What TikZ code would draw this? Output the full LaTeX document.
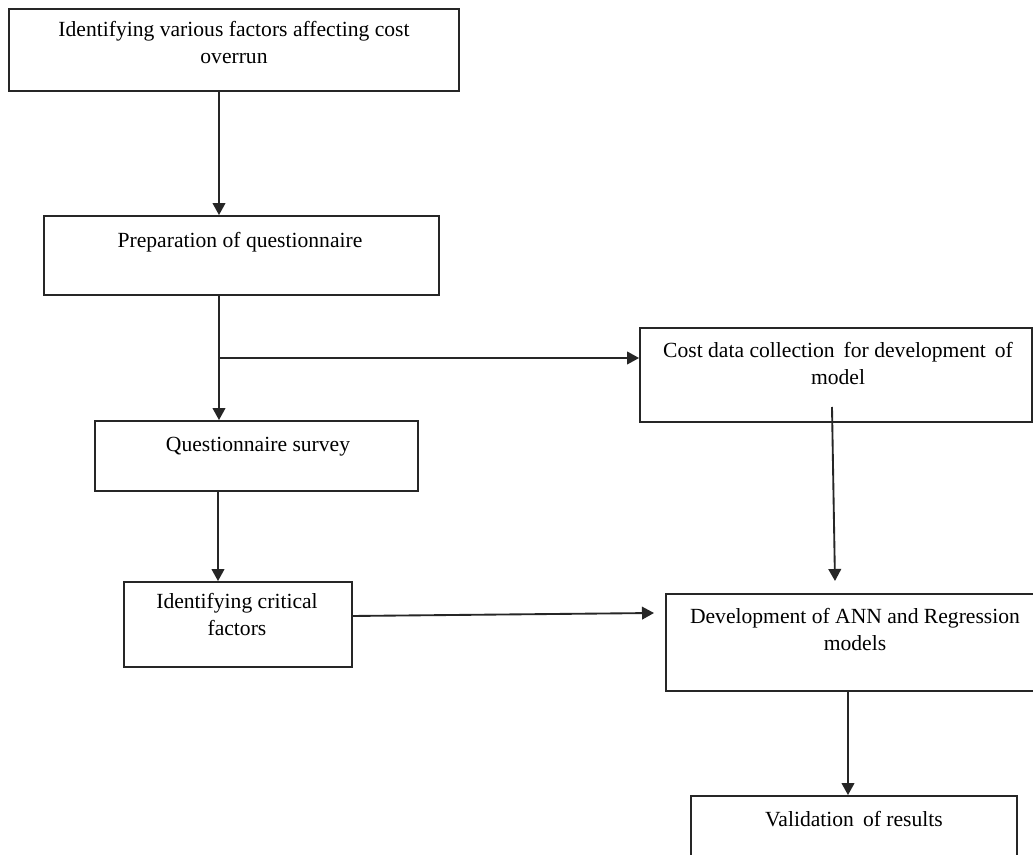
\documentclass[tikz,border=0pt]{standalone}
\usepackage{fontspec}
\setmainfont{Liberation Serif}
\usetikzlibrary{arrows.meta,fit}
\begin{document}
\begin{tikzpicture}[x=0.75pt,y=-0.75pt,
  box/.style={draw=black!85, line width=1.4pt, inner sep=0pt},
  txt/.style={align=center, inner sep=0pt, anchor=north, text=black,
              font=\fontsize{16.2}{20.25}\selectfont},
  arr/.style={line width=1.4pt, draw=black!85,
              -{Triangle[length=9pt,width=9.5pt]}}]
\useasboundingbox (0,0) rectangle (1033,855);
\fill[white] (0,0) rectangle (1033,855);
\clip (0,0) rectangle (1033,855);

% boxes
\node[box, fit={(9,9) (459,91)}] (b1) {};
\node[box, fit={(44,216) (439,295)}] (b2) {};
\node[box, fit={(95,421) (418,491)}] (b3) {};
\node[box, fit={(124,582) (352,667)}] (b4) {};
\node[box, fit={(640,328) (1032,422)}] (b5) {};
\node[box, fit={(666,594) (1044,691)}] (b6) {};
\node[box, fit={(691,796) (1017,880)}] (b7) {};

% texts
\node[txt] (t1) at (234,21.3) {Identifying various factors affecting cost\\overrun};
\node[txt] (t2) at (240,232.3) {Preparation of questionnaire};
\node[txt] (t3) at (258,437.3) {Questionnaire survey};
\node[txt] (t4) at (237,593.3) {Identifying critical\\factors};
\node[txt] (t5) at (838,342.3) {Cost data collection\, for development\, of\\model};
\node[txt] (t6) at (855,608.3) {Development of ANN and Regression\\models};
\node[txt] (t7) at (854,811.3) {Validation\, of results};

% helper coordinates
\coordinate (xa) at (219,0);
\coordinate (xb) at (218,0);
\coordinate (xc) at (848,0);
\coordinate (j) at (219,358);
\coordinate (s4) at (352,616);
\coordinate (e4) at (654,613);
\coordinate (s5) at (832,407);
\coordinate (e5) at (835,581);

% connectors
\draw[arr] (b1.south -| xa) -- (b2.north -| xa);
\draw[arr] (b2.south -| xa) -- (b3.north -| xa);
\draw[arr] (j) -- (j -| b5.west);
\draw[arr] (b3.south -| xb) -- (b4.north -| xb);
\draw[arr] (s4) -- (e4);
\draw[arr] (s5) -- (e5);
\draw[arr] (b6.south -| xc) -- (b7.north -| xc);
\end{tikzpicture}
\end{document}
